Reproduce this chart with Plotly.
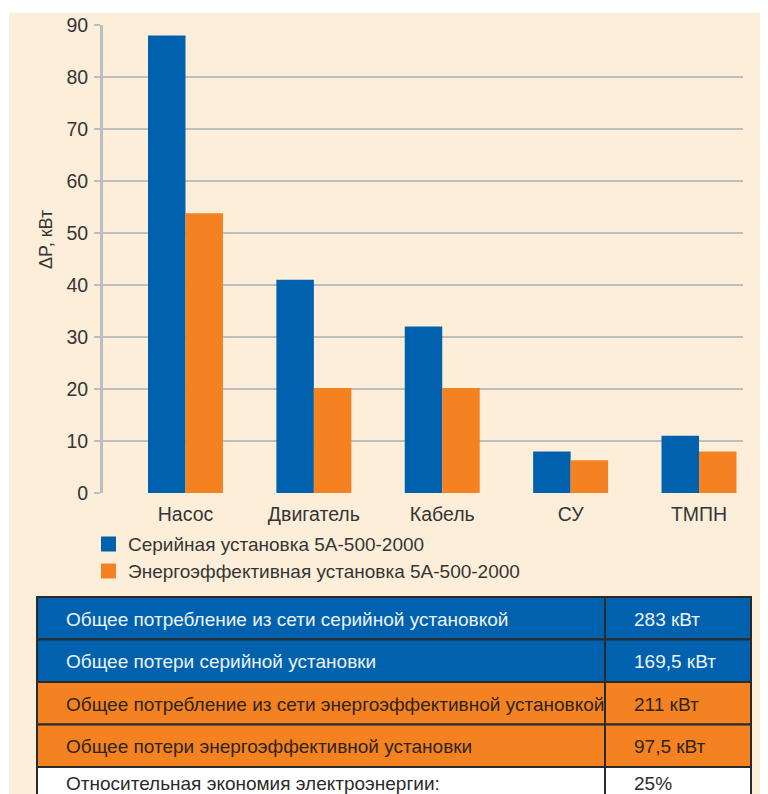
import plotly.graph_objects as go

# ---- data ----
categories = ["Насос", "Двигатель", "Кабель", "СУ", "ТМПН"]
series_names = ["Серийная установка 5А-500-2000",
                "Энергоэффективная установка 5А-500-2000"]
serial_values = [88, 41, 32, 8, 11]
efficient_values = [53.8, 20.2, 20.2, 6.3, 8]
y_ticks = [0, 10, 20, 30, 40, 50, 60, 70, 80, 90]
y_title = "ΔP, кВт"

table_labels = [
    "Общее потребление из сети серийной установкой",
    "Общее потери серийной установки",
    "Общее потребление из сети энергоэффективной установкой",
    "Общее потери энергоэффективной установки",
    "Относительная экономия электроэнергии:",
]
table_values = ["283 кВт", "169,5 кВт", "211 кВт", "97,5 кВт", "25%"]

# ---- styles ----
VW, VH = 768, 794      # browser window
OFF = 8                # default body margin of the html page
W, H = VW - OFF, VH - OFF
BLUE = "#0062AE"
ORANGE = "#F58220"
CREAM = "#FDEEDA"
GRID = "#BDBEC0"
TXT = "#353535"
FONT = "Liberation Sans, Arial, sans-serif"
series_colors = [BLUE, ORANGE]
row_fills = [BLUE, BLUE, ORANGE, ORANGE, "#FFFFFF"]
row_text = ["#EEF3FA", "#EEF3FA", "#2E2418", "#2E2418", "#2b2b2b"]


def px(x):
    """window pixel x -> paper fraction"""
    return (x - OFF) / W


def py(y):
    """window pixel y -> paper fraction"""
    return 1 - (y - OFF) / H


fig = go.Figure()
for name, vals, col in zip(series_names, [serial_values, efficient_values], series_colors):
    fig.add_trace(go.Bar(x=categories, y=vals, name=name, showlegend=False,
                         marker=dict(color=col, line=dict(width=0))))

shapes = []
annotations = []

# cream background panel (white strip at top and left)
shapes.append(dict(type="rect", xref="paper", yref="paper", x0=px(9), x1=1.02,
                   y0=-0.02, y1=py(13), fillcolor=CREAM, line=dict(width=0),
                   layer="below"))

# y-axis title
annotations.append(dict(text=y_title, xref="paper", yref="paper", x=px(46), y=py(240),
                        xanchor="center", yanchor="middle",
                        textangle=-90, showarrow=False,
                        font=dict(size=18, color=TXT, family=FONT)))

# legend (square swatches + labels)
leg_y = [544, 571]
for name, col, yc in zip(series_names, series_colors, leg_y):
    shapes.append(dict(type="rect", xref="paper", yref="paper",
                       x0=px(101), x1=px(116), y0=py(yc + 7.5), y1=py(yc - 7.5),
                       fillcolor=col, line=dict(width=0)))
    annotations.append(dict(text=name, xref="paper", yref="paper", x=px(126), y=py(yc),
                            xanchor="left", yanchor="middle", showarrow=False,
                            font=dict(size=19, color=TXT, family=FONT)))

# table
t_left, t_div, t_right = 37, 605, 751
t_top, row_h = 597, 42.5
for i, (lab, val) in enumerate(zip(table_labels, table_values)):
    y0 = t_top + i * row_h
    y1 = y0 + row_h
    if i == len(table_labels) - 1:
        y1 = VH + 20
    shapes.append(dict(type="rect", xref="paper", yref="paper",
                       x0=px(t_left), x1=px(t_right), y0=py(y1), y1=py(y0),
                       fillcolor=row_fills[i], line=dict(color="#2a2a2a", width=2)))
    shapes.append(dict(type="line", xref="paper", yref="paper",
                       x0=px(t_div), x1=px(t_div), y0=py(y1), y1=py(y0),
                       line=dict(color="#2a2a2a", width=2)))
    yc = y0 + row_h / 2 + 1
    if i == len(table_labels) - 1:
        yc = 783
    annotations.append(dict(text=lab, xref="paper", yref="paper", x=px(64), y=py(yc),
                            xanchor="left", yanchor="middle", showarrow=False,
                            font=dict(size=19, color=row_text[i], family=FONT)))
    annotations.append(dict(text=val, xref="paper", yref="paper", x=px(632), y=py(yc),
                            xanchor="left", yanchor="middle", showarrow=False,
                            font=dict(size=19, color=row_text[i], family=FONT)))

# x range so category centres sit where the reference puts them
step = 128.4
x_lo = -(185.5 - 103) / step
x_hi = 4 + (743 - 699) / step

fig.update_layout(
    width=W, height=H,
    margin=dict(l=0, r=0, t=0, b=0, autoexpand=False),
    paper_bgcolor="#FFFFFF",
    plot_bgcolor="rgba(0,0,0,0)",
    barmode="group",
    bargap=0.416,
    bargroupgap=0,
    font=dict(family=FONT, color=TXT, size=18),
    showlegend=False,
    xaxis=dict(domain=[px(103), px(743)], range=[x_lo, x_hi], type="category",
               showgrid=False, showline=False, ticks="", zeroline=False,
               ticklabelstandoff=7,
               tickfont=dict(size=19.5, color=TXT, family=FONT)),
    yaxis=dict(domain=[py(493), py(25)], range=[0, 90], tickvals=y_ticks,
               showgrid=True, gridcolor=GRID, gridwidth=2,
               showline=True, linecolor=GRID, linewidth=3,
               ticks="outside", ticklen=6, tickwidth=2, tickcolor=GRID,
               zeroline=False, ticklabelstandoff=2,
               tickfont=dict(size=19.5, color=TXT, family=FONT)),
    shapes=shapes,
    annotations=annotations,
)

fig.write_html("out.html")
